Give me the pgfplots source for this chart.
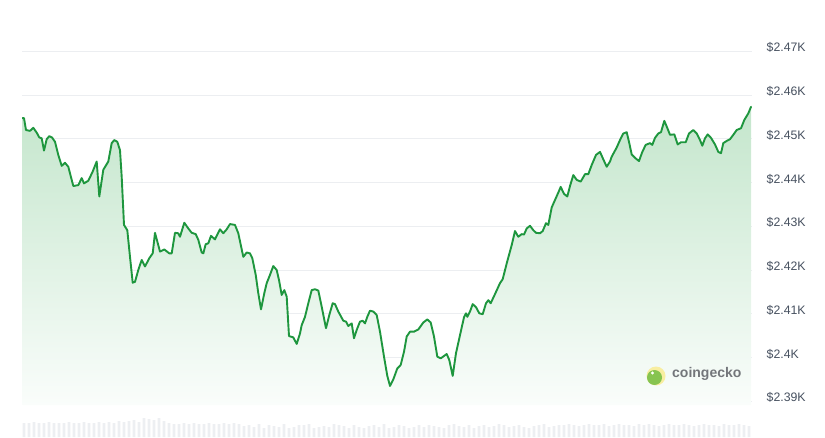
\documentclass[border=0pt]{standalone}
\usepackage{pgfplots}
\pgfplotsset{compat=1.18}
\usepackage{pgfplotstable}
\usepackage{fontspec}
\setmainfont{Liberation Sans}
\definecolor{gline}{RGB}{30,150,62}
\definecolor{gtop}{RGB}{196,230,204}
\definecolor{gbot}{RGB}{250,253,251}
\definecolor{gridc}{RGB}{236,238,241}
\definecolor{labc}{RGB}{70,80,95}
\definecolor{volc}{RGB}{237,239,242}
\definecolor{cgtext}{RGB}{115,118,122}
\definecolor{cgyel}{RGB}{248,238,160}
\definecolor{cggreen}{RGB}{135,196,80}

\pgfplotstableread{
x y
22.5 2454.7
24 2454.7
26 2452.0
30 2451.8
33.3 2452.5
36.7 2451.4
39.3 2450.3
41.7 2450.1
44 2447.3
46.7 2449.9
49.3 2450.6
52 2450.3
55 2449.3
58.3 2446.3
61.7 2443.8
65 2444.5
68.3 2443.6
73.3 2439.2
78.3 2439.4
81.7 2441.0
84 2439.8
88.3 2440.4
92.7 2442.5
96.7 2444.8
99.3 2436.8
103.3 2442.9
108.3 2444.8
111.7 2449.0
114.3 2449.7
117.3 2449.3
120 2447.4
121.7 2441.3
124 2430.3
127.3 2429.1
130 2423.0
132.7 2417.1
135 2417.3
138.3 2420.0
141.7 2422.3
145 2420.8
149.3 2422.7
152.7 2423.8
155 2428.5
160 2424.2
164.3 2424.7
169.3 2423.8
171.7 2423.8
175 2428.5
178.3 2428.4
180 2427.6
184.3 2430.8
188.3 2429.5
191.7 2428.5
195.7 2428.2
198.3 2426.9
201.7 2424.0
203.3 2423.8
205.7 2425.9
208.3 2426.1
211 2427.8
215 2427.0
220 2429.3
223.3 2428.4
226.7 2429.3
230 2430.5
235 2430.3
238.3 2428.4
243.3 2423.0
246.7 2424.0
250 2423.8
252.3 2422.7
255.7 2418.9
258.3 2414.7
261 2411.0
264.3 2414.7
266.7 2417.0
270 2418.9
273.3 2420.9
276.7 2420.0
279 2417.7
281.7 2414.3
284.3 2415.4
286.7 2413.9
289 2404.9
293.3 2404.6
296.7 2403.1
300 2405.5
301.7 2407.4
305 2409.3
308.3 2412.4
311.7 2415.4
315 2415.6
318.3 2415.3
321.7 2411.6
326 2406.7
329.3 2409.7
332.7 2412.4
335 2412.2
338.3 2410.5
343.3 2408.4
346 2408.2
348.3 2407.2
351.7 2407.8
354 2404.4
356.7 2406.3
360 2408.2
362.7 2408.4
365 2407.8
367.3 2409.3
370 2410.7
373.3 2410.5
376.7 2409.7
380 2405.9
384 2400.2
387.3 2395.8
390 2393.5
393.3 2395.0
397.3 2397.5
400.7 2398.3
404 2401.3
406.7 2404.8
410 2405.9
414 2405.9
418.3 2406.4
423.3 2408.0
427.3 2408.7
430.7 2408.0
434 2404.8
437.3 2400.2
440.7 2399.8
446.7 2400.8
449.3 2399.4
452.7 2395.8
456 2401.0
460 2405.1
464 2409.2
466 2410.1
467.3 2409.3
470 2410.5
472.7 2412.2
476 2411.5
479.3 2410.1
482.7 2409.9
486 2412.4
488.3 2413.1
490.7 2412.4
495 2414.5
500 2417.0
502.7 2417.9
506.7 2421.5
511.7 2425.7
515 2428.9
518.3 2427.6
521.7 2428.2
524 2428.1
526.7 2429.5
530 2430.1
533.3 2429.1
536 2428.5
540 2428.4
542.7 2428.9
546 2430.7
548.3 2430.3
551.7 2434.3
555 2436.0
558.3 2437.7
560.7 2439.0
564 2437.4
567.3 2436.8
570 2439.2
573.3 2441.7
576.7 2440.6
580.7 2440.2
585 2441.9
588.3 2441.9
591.7 2444.0
596 2446.3
600 2447.0
603.3 2445.3
606.7 2443.6
610 2444.8
611.7 2445.9
616.7 2448.0
620 2449.7
623.3 2451.2
626.7 2451.5
629 2449.3
631.7 2446.4
635.7 2445.5
639 2444.9
642.3 2447.0
645.7 2448.6
650 2449.0
652.3 2448.6
655 2450.2
658.3 2451.2
661 2451.5
664.3 2454.1
666.7 2452.8
670 2450.9
674.3 2451.0
677.7 2448.7
681 2449.2
685.7 2449.2
689 2451.2
693.3 2452.0
696.7 2451.2
700 2449.7
702.3 2448.4
705 2450.1
707.7 2451.0
711 2450.2
715 2448.7
718.3 2447.0
721 2446.7
723.3 2449.0
726.7 2449.5
730 2449.9
733.3 2450.9
736.7 2452.0
741 2452.4
744.3 2454.3
748.3 2455.8
751 2457.3
}\price

\pgfplotstableread{
v
14
14
15
14
14
15
14
14
14
15
14
14
15
14
14
15
14
15
14
16
15
16
17
15
19
18
17
19
16
14
13
13
14
13
14
13
13
14
13
13
14
13
14
13
11
12
10
13
9
12
11
10
13
9
10
12
12
13
9
10
11
10
13
12
11
9
12
10
9
11
12
10
13
9
10
12
11
9
10
12
10
12
11
10
9
12
13
11
10
12
9
11
12
10
11
13
12
10
11
12
10
9
11
12
13
10
11
12
12
13
12
11
12
13
12
12
13
11
12
13
12
12
11
13
12
13
12
11
12
13
12
12
13
12
11
12
13
12
12
11
13
12
12
13
12
11
}\vol

\begin{document}
\begin{tikzpicture}[x=1pt,y=1pt]
\useasboundingbox (0,0) rectangle (825,437);
% volume bars
\begin{axis}[
  at={(22pt,0pt)}, anchor=south west,
  scale only axis, width=730pt, height=20pt,
  xmin=22, xmax=752, ymin=0, ymax=20,
  axis lines=none, clip=true,
]
\addplot[ybar, bar width=2.8pt, fill=volc, draw=none]
  table[x expr=24+5*\coordindex, y=v] {\vol};
\end{axis}
% price
\begin{axis}[
  at={(22pt,32pt)}, anchor=south west,
  scale only axis, width=730pt, height=365pt,
  xmin=22, xmax=752, ymin=2389.143, ymax=2472.571,
  axis line style={draw=none},
  tick style={draw=none},
  xtick=\empty,
  ytick={2390,2400,2410,2420,2430,2440,2450,2460,2470},
  yticklabels={\$2.39K,\$2.4K,\$2.41K,\$2.42K,\$2.43K,\$2.44K,\$2.45K,\$2.46K,\$2.47K},
  yticklabel pos=right,
  yticklabel style={anchor=west, inner sep=0pt, xshift=14.5pt, yshift=3.5pt,
    font=\fontsize{12.3}{14}\selectfont, text=labc},
  ymajorgrids,
  grid style={gridc, line width=0.8pt},
  clip=true,
]
\addplot[draw=none, top color=gtop, bottom color=gbot]
  table[x=x,y=y] {\price} -- (axis cs:751,2389.143) -- (axis cs:22.5,2389.143) -- cycle;
\addplot[gline, line width=1.9pt, line join=round, line cap=round, no markers]
  table[x=x,y=y] {\price};
\end{axis}
% coingecko watermark
\fill[cgyel] (656,61) circle (9.5);
\fill[cggreen] (654.5,59.5) circle (7.5);
\fill[white] (652.5,64) circle (1.6);
\node[anchor=west, inner sep=0pt, text=cgtext, font=\fontsize{14}{16}\selectfont\bfseries] at (672,63) {coingecko};
\end{tikzpicture}
\end{document}
